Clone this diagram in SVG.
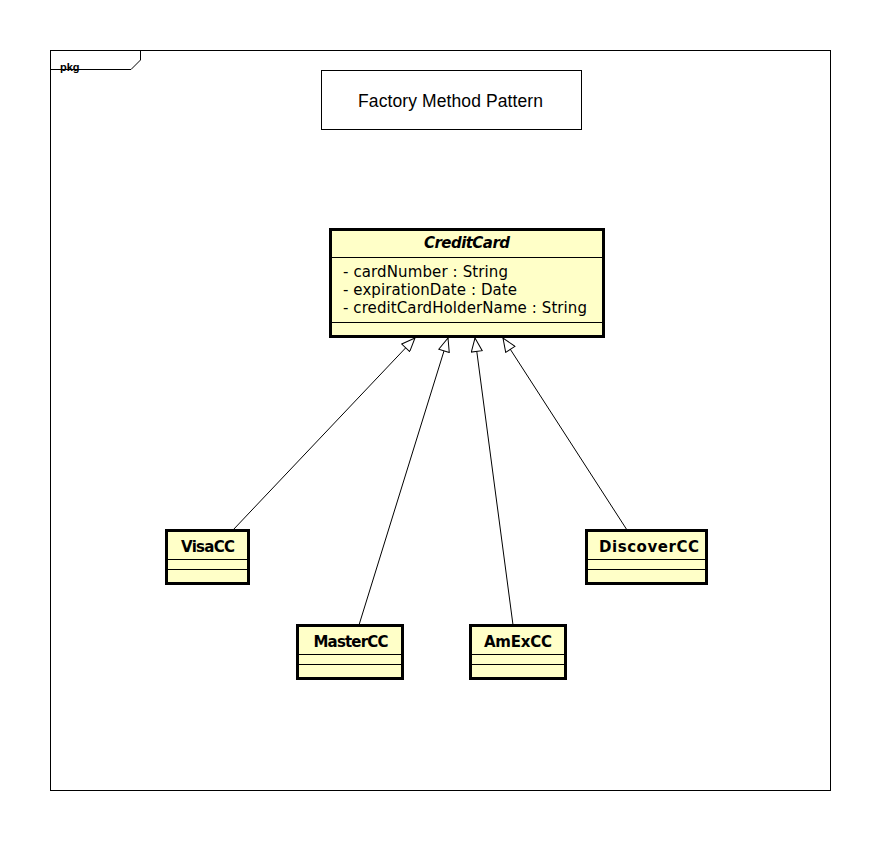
<svg xmlns="http://www.w3.org/2000/svg" width="881" height="841" viewBox="0 0 881 841">
<style>
.cls{fill:#ffffc8;stroke:#000;stroke-width:3}
.sep{stroke:#000;stroke-width:1}
.name{font-family:"DejaVu Sans",Verdana,sans-serif;font-weight:bold;font-size:15px;text-anchor:middle;fill:#000}
.attr{font-family:"DejaVu Sans",Verdana,sans-serif;font-size:15px;fill:#000}
.conn{stroke:#000;stroke-width:1;fill:none;marker-end:url(#gen)}
</style>
<defs>
<marker id="gen" viewBox="0 0 15 12" refX="14.5" refY="6" markerWidth="15" markerHeight="12" markerUnits="userSpaceOnUse" orient="auto">
<path d="M1,0.5 L14.5,6 L1,11.5 Z" fill="#fff" stroke="#000" stroke-width="1"/>
</marker>
</defs>
<rect width="881" height="841" fill="#fff"/>
<g id="frame">
<rect x="50.5" y="50.5" width="780" height="740" fill="none" stroke="#000" stroke-width="1"/>
<path d="M50.5,69.5 H131 L140.5,60 V50.5" fill="none" stroke="#000" stroke-width="1"/>
<text x="60" y="71" font-family="'Liberation Sans',Arial,sans-serif" font-weight="bold" font-size="11">pkg</text>
</g>
<g id="title">
<rect x="321.5" y="70.5" width="260" height="59" fill="#fff" stroke="#000" stroke-width="1"/>
<text x="450.5" y="107" text-anchor="middle" font-family="'Liberation Sans',Arial,sans-serif" font-size="17.5" textLength="185" lengthAdjust="spacing">Factory Method Pattern</text>
</g>
<g id="connectors">
<line class="conn" x1="233" y1="530" x2="415" y2="338"/>
<line class="conn" x1="359" y1="625" x2="448" y2="338"/>
<line class="conn" x1="513" y1="625" x2="475" y2="338"/>
<line class="conn" x1="627" y1="530" x2="503" y2="338"/>
</g>
<g id="CreditCard">
<rect class="cls" x="330.5" y="229.5" width="273" height="107"/>
<line class="sep" x1="331" y1="257.5" x2="603" y2="257.5"/>
<line class="sep" x1="331" y1="322.5" x2="603" y2="322.5"/>
<text class="name" x="467" y="248" font-style="italic" textLength="86" lengthAdjust="spacing">CreditCard</text>
<text class="attr" x="343" y="277" textLength="165" lengthAdjust="spacing">- cardNumber : String</text>
<text class="attr" x="343" y="295" textLength="174" lengthAdjust="spacing">- expirationDate : Date</text>
<text class="attr" x="343" y="313" textLength="244" lengthAdjust="spacing">- creditCardHolderName : String</text>
</g>
<g id="VisaCC">
<rect class="cls" x="166.5" y="530.5" width="82" height="53"/>
<line class="sep" x1="167" y1="559.5" x2="248" y2="559.5"/>
<line class="sep" x1="167" y1="569.5" x2="248" y2="569.5"/>
<text class="name" x="208" y="552" textLength="54" lengthAdjust="spacing">VisaCC</text>
</g>
<g id="MasterCC">
<rect class="cls" x="297.5" y="625.5" width="105" height="53"/>
<line class="sep" x1="298" y1="654.5" x2="402" y2="654.5"/>
<line class="sep" x1="298" y1="664.5" x2="402" y2="664.5"/>
<text class="name" x="351" y="647" textLength="75" lengthAdjust="spacing">MasterCC</text>
</g>
<g id="AmExCC">
<rect class="cls" x="470.5" y="625.5" width="95" height="53"/>
<line class="sep" x1="471" y1="654.5" x2="565" y2="654.5"/>
<line class="sep" x1="471" y1="664.5" x2="565" y2="664.5"/>
<text class="name" x="518" y="647" textLength="68" lengthAdjust="spacing">AmExCC</text>
</g>
<g id="DiscoverCC">
<rect class="cls" x="586.5" y="530.5" width="120" height="53"/>
<line class="sep" x1="587" y1="559.5" x2="706" y2="559.5"/>
<line class="sep" x1="587" y1="569.5" x2="706" y2="569.5"/>
<text class="name" x="649" y="552" textLength="100" lengthAdjust="spacing">DiscoverCC</text>
</g>
</svg>
